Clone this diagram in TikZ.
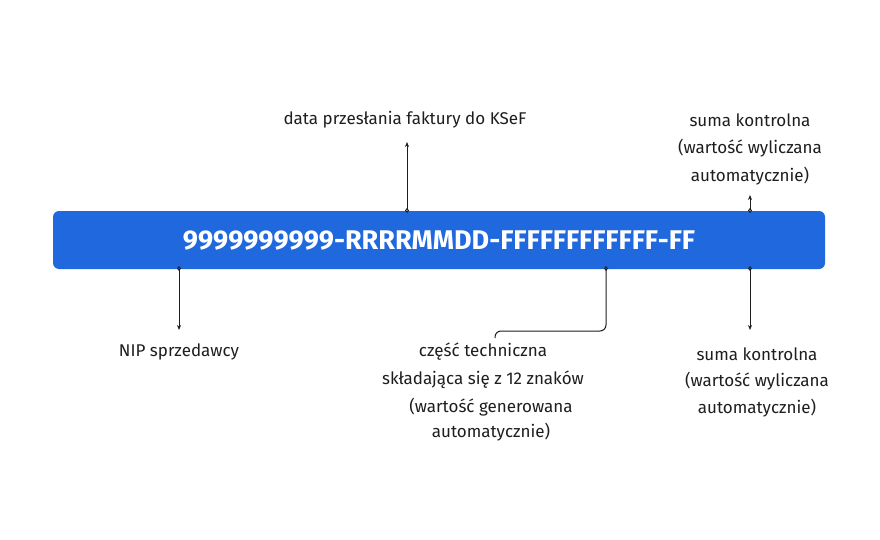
\documentclass[tikz,border=0pt]{standalone}
\usepackage{fontspec}
\setmainfont{Fira Sans}
\usetikzlibrary{arrows.meta}
\definecolor{bar}{HTML}{2068DE}
\definecolor{ink}{HTML}{1E1E1E}
\begin{document}
\begin{tikzpicture}[x=1pt,y=-1pt,
  lbl/.style={font=\fontsize{17}{20}\selectfont,text=ink,inner sep=0pt,align=center},
  con/.style={draw=ink,line width=1pt,{Diamond[open,length=5pt,width=4pt]}-{Stealth[length=5pt,width=4pt]}}]
\useasboundingbox[fill=white] (0,0) rectangle (880,540);
\node[fill=bar,rounded corners=6pt,minimum width=772pt,minimum height=58pt,inner sep=0pt] (bar) at (439,240) {};
\node[text=white,font=\fontsize{27}{30}\selectfont\bfseries] (id) at (439,241) {9999999999-RRRRMMDD-FFFFFFFFFFFF-FF};
\coordinate (a1) at (179,266); \coordinate (a1e) at (179,330);
\coordinate (b1) at (407,213); \coordinate (b1e) at (407,142);
\coordinate (c1) at (750,213); \coordinate (c1e) at (750,195);
\coordinate (d1) at (750,266); \coordinate (d1e) at (750,330);
\coordinate (e1) at (606,266); \coordinate (e1e) at (495,338);
\draw[con] (a1) -- (a1e);
\draw[con] (b1) -- (b1e);
\draw[con] (c1) -- (c1e);
\draw[con] (d1) -- (d1e);
\draw[draw=ink,line width=1pt,rounded corners=6pt,{Diamond[open,length=5pt,width=4pt]}-] (e1) -- (606,331) -- (495,331) -- (e1e);
\node[lbl] (nip) at (179,352) {NIP sprzedawcy};
\node[lbl] (data) at (405,120) {data przesłania faktury do KSeF};
\node[lbl] (s1) at (750,120) {suma kontrolna};
\node[lbl] (s1b) at (750,148) {(wartość wyliczana};
\node[lbl] (s1c) at (750,176) {automatycznie)};
\node[lbl] (s2) at (757,354) {suma kontrolna};
\node[lbl] (s2b) at (757,381) {(wartość wyliczana};
\node[lbl] (s2c) at (757,408) {automatycznie)};
\node[lbl] (t1) at (483,352) {część techniczna};
\node[lbl] (t2) at (483,380) {składająca się z 12 znaków};
\node[lbl] (t3) at (491,407) {(wartość generowana};
\node[lbl] (t4) at (491,432) {automatycznie)};
\end{tikzpicture}
\end{document}
